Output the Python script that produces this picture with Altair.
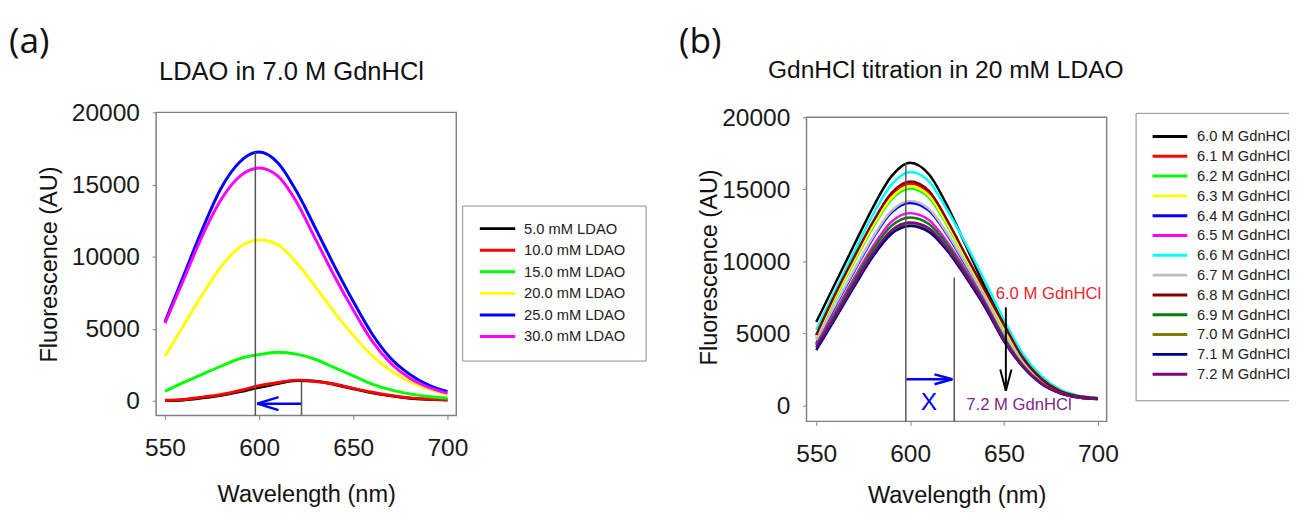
import altair as alt
import pandas as pd

FONT = "Liberation Sans"

# ---------------- data ----------------
wavelength = [550, 560, 570, 580, 590, 600, 610, 620, 630, 640, 650, 660, 670, 680, 690, 700]

# panel (a): LDAO in 7.0 M GdnHCl
left_labels = ["5.0 mM LDAO", "10.0  mM LDAO", "15.0 mM LDAO", "20.0 mM LDAO", "25.0 mM LDAO", "30.0 mM LDAO"]
left_colors = ["#000000", "#ff0000", "#00ff00", "#ffff00", "#0000ff", "#ff00ff"]
ldao_5 = [30, 80, 220, 400, 650, 950, 1220, 1420, 1380, 1150, 850, 570, 360, 200, 120, 70]
ldao_10 = [50, 110, 270, 450, 730, 1070, 1290, 1450, 1360, 1180, 880, 610, 390, 220, 140, 90]
ldao_15 = [680, 1290, 1860, 2430, 2950, 3220, 3380, 3250, 2880, 2310, 1750, 1180, 770, 500, 320, 200]
ldao_20 = [3110, 5260, 7410, 9340, 10700, 11160, 10820, 9570, 7900, 6150, 4550, 3150, 2100, 1350, 850, 450]
ldao_25 = [5490, 8730, 11950, 14800, 16600, 17250, 16500, 14500, 11950, 9350, 6900, 4650, 2950, 1850, 1100, 650]
ldao_30 = [5400, 8440, 11500, 14000, 15600, 16150, 15580, 13760, 11200, 8650, 6300, 4150, 2600, 1580, 950, 550]
left_series = [ldao_5, ldao_10, ldao_15, ldao_20, ldao_25, ldao_30]

# panel (b): GdnHCl titration in 20 mM LDAO
right_labels = ["6.0 M GdnHCl", "6.1 M GdnHCl", "6.2 M GdnHCl", "6.3 M GdnHCl", "6.4 M GdnHCl",
                "6.5 M GdnHCl", "6.6 M GdnHCl", "6.7 M GdnHCl", "6.8 M GdnHCl", "6.9 M GdnHCl",
                "7.0 M GdnHCl", "7.1 M GdnHCl", "7.2 M GdnHCl"]
right_colors = ["#000000", "#ff0000", "#00ff00", "#ffff00", "#0000ff", "#ff00ff", "#00ffff",
                "#c0c0c0", "#800000", "#008000", "#808000", "#000080", "#800080"]
gdn_60 = [5800, 8450, 11100, 13700, 15900, 16850, 16050, 13800, 11000, 8200, 5700, 3500, 1950, 1050, 650, 500]
gdn_61 = [4850, 7610, 10150, 12600, 14600, 15400, 14750, 12700, 10250, 7850, 5500, 3280, 1820, 990, 630, 490]
gdn_62 = [4700, 7420, 9920, 12330, 14280, 15050, 14430, 12450, 10100, 7750, 5300, 3200, 1780, 970, 610, 480]
gdn_63 = [4750, 7510, 10020, 12430, 14410, 15200, 14570, 12550, 10150, 7800, 5400, 3250, 1800, 980, 620, 490]
gdn_64 = [4300, 6860, 9260, 11550, 13380, 14050, 13520, 11800, 9650, 7400, 4900, 2950, 1650, 910, 580, 470]
gdn_65 = [4250, 6490, 8800, 11000, 12740, 13350, 12880, 11300, 9300, 7150, 4750, 2850, 1600, 890, 570, 460]
gdn_66 = [5250, 7940, 10610, 13200, 15310, 16200, 15550, 13500, 11150, 8600, 5950, 3600, 2050, 1100, 680, 520]
gdn_67 = [4550, 6960, 9360, 11660, 13500, 14200, 13650, 11900, 9750, 7500, 5050, 3050, 1680, 920, 590, 470]
gdn_68 = [4900, 7700, 10250, 12700, 14740, 15550, 14900, 12800, 10350, 7950, 5600, 3320, 1840, 1000, 640, 500]
gdn_69 = [4150, 6330, 8600, 10770, 12460, 13050, 12600, 11100, 9150, 7050, 4700, 2800, 1570, 880, 560, 460]
gdn_70 = [4000, 6090, 8300, 10420, 12050, 12600, 12200, 10800, 8950, 6900, 4550, 2720, 1520, 860, 550, 450]
gdn_71 = [3850, 6000, 8200, 10300, 11900, 12450, 12050, 10700, 8850, 6800, 4450, 2700, 1500, 850, 550, 450]
gdn_72 = [4050, 6150, 8380, 10500, 12150, 12700, 12300, 10850, 9000, 6950, 4550, 2730, 1530, 860, 550, 450]
right_series = [gdn_60, gdn_61, gdn_62, gdn_63, gdn_64, gdn_65, gdn_66, gdn_67, gdn_68, gdn_69, gdn_70, gdn_71, gdn_72]

x_ticks = [550, 600, 650, 700]
y_ticks = [0, 5000, 10000, 15000, 20000]

# annotation segments (data coordinates)
left_gray_x = [598, 622.5]
left_gray_top = [17250, 1430]
left_arrow_x = [622.2, 599, 599]
left_arrow_x2 = [599, 610.3, 610.3]
left_arrow_y = [-180, -180, -180]
left_arrow_y2 = [-180, 270, -630]

right_gray_x = [597.7, 623.5]
right_gray_top = [16850, 8880]
right_blue_x = [598, 622.5, 622.5]
right_blue_x2 = [622.5, 613, 613]
right_blue_y = [1820, 1820, 1820]
right_blue_y2 = [1820, 2160, 1480]
right_black_x = [651, 651, 651]
right_black_x2 = [651, 648, 654]
right_black_y = [6810, 1020, 1020]
right_black_y2 = [1020, 2500, 2500]


def long_df(labels, series):
    rows = []
    for lab, vals in zip(labels, series):
        for w, v in zip(wavelength, vals):
            rows.append({"wl": w, "F": v, "series": lab})
    return pd.DataFrame(rows)


left_df = long_df(left_labels, left_series)
right_df = long_df(right_labels, right_series)


def enc_x(scale, title_pad):
    return alt.X("wl:Q", scale=scale,
                 axis=alt.Axis(values=x_ticks, title="Wavelength (nm)", titlePadding=title_pad,
                               labelPadding=17, tickSize=4, format="d"))


def enc_y(scale, title_pad):
    return alt.Y("F:Q", scale=scale,
                 axis=alt.Axis(values=y_ticks, title="Fluorescence (AU)", titlePadding=title_pad,
                               labelPadding=13, tickSize=4, format="d"))


def segs(x, x2, y, y2):
    return pd.DataFrame({"wl": x, "wl2": x2, "F": y, "F2": y2})


def label_layer(text, x, y, size, font, align="left", color="#111111"):
    return alt.Chart(pd.DataFrame({"t": [text]})).mark_text(
        align=align, baseline="alphabetic", fontSize=size, font=font, color=color
    ).encode(x=alt.value(x), y=alt.value(y), text="t:N")


def panel(df, labels, colors, xdom, ydom, width, height, title, title_x, title_size,
          legend, tag, tag_x, ytitle_pad, xtitle_pad, stroke_w,
          rule_layers, text_layers, extra_layers):
    xs = alt.Scale(domain=xdom, nice=False, zero=False)
    ys = alt.Scale(domain=ydom, nice=False, zero=False)
    lines = alt.Chart(df).mark_line(strokeWidth=stroke_w, interpolate="monotone").encode(
        x=enc_x(xs, xtitle_pad),
        y=enc_y(ys, ytitle_pad),
        color=alt.Color("series:N", scale=alt.Scale(domain=labels, range=colors), legend=legend),
    )
    layers = list(extra_layers) + [lines]
    for d, col, sw in rule_layers:
        layers.append(alt.Chart(d).mark_rule(color=col, strokeWidth=sw).encode(
            x=enc_x(xs, xtitle_pad), x2="wl2:Q", y=enc_y(ys, ytitle_pad), y2="F2:Q"))
    for d, col, size in text_layers:
        layers.append(alt.Chart(d).mark_text(color=col, fontSize=size, font=FONT).encode(
            x=enc_x(xs, xtitle_pad), y=enc_y(ys, ytitle_pad), text="t:N"))
    layers.append(label_layer(tag, tag_x, -61, 36, "Open Sans"))
    layers.append(label_layer(title, title_x, -33 if tag == "(a)" else -35, title_size, FONT, "center"))
    return alt.layer(*layers).properties(width=width, height=height)


left_legend = alt.Legend(orient="none", legendX=312, legendY=95, title=None,
                         strokeColor="#8c8c8c", padding=16, symbolType="stroke",
                         symbolSize=1300, symbolStrokeWidth=3, labelFontSize=15,
                         labelFont=FONT, labelColor="#222222", clipHeight=15,
                         rowPadding=6, labelOffset=7)
right_legend = alt.Legend(orient="none", legendX=347, legendY=13, title=None,
                          padding=4, symbolType="stroke",
                          symbolSize=1250, symbolStrokeWidth=3, labelFontSize=15,
                          labelFont=FONT, labelColor="#222222", clipHeight=15,
                          rowPadding=4.2, labelOffset=8)

left_rules = [
    (segs(left_gray_x, left_gray_x, left_gray_top, [-1000, -1000]), "#555555", 1.5),
    (segs(left_arrow_x, left_arrow_x2, left_arrow_y, left_arrow_y2), "#0000ff", 2.5),
]
right_rules = [
    (segs(right_gray_x, right_gray_x, right_gray_top, [-1100, -1100]), "#555555", 1.5),
    (segs(right_blue_x, right_blue_x2, right_blue_y, right_blue_y2), "#0000ff", 2.5),
    (segs(right_black_x, right_black_x2, right_black_y, right_black_y2), "#000000", 2),
]
right_texts = [
    (pd.DataFrame({"wl": [610], "F": [250], "t": ["X"]}), "#0000ff", 25),
    (pd.DataFrame({"wl": [673.7], "F": [7740], "t": ["6.0 M GdnHCl"]}), "#e8262e", 17),
    (pd.DataFrame({"wl": [658], "F": [0], "t": ["7.2 M GdnHCl"]}), "#7b2a85", 17),
]

# frame of panel (b), which sits 5 px lower than panel (a)
right_frame = alt.Chart(pd.DataFrame({"k": [0]})).mark_rect(
    fill="transparent", stroke="#808080", strokeWidth=1.5
).encode(x=alt.value(0), x2=alt.value(306), y=alt.value(5), y2=alt.value(315))

# legend box of panel (b): cut by the right edge of the picture
box_x = [336, 336, 336]
box_x2 = [336, 492, 492]
box_y = [1, 1, 294]
box_y2 = [294, 1, 294]
right_box = alt.Chart(pd.DataFrame({"x": box_x, "x2": box_x2, "y": box_y, "y2": box_y2})).mark_rule(
    color="#8c8c8c", strokeWidth=1
).encode(x=alt.X("x:Q", scale=None), x2="x2:Q", y=alt.Y("y:Q", scale=None), y2="y2:Q")

left = panel(left_df, left_labels, left_colors, [545.3, 704.7], [-1000, 20000], 306, 309,
             "LDAO in 7.0 M GdnHCl", 138, 26, left_legend, "(a)", -150, 10, 23, 3,
             left_rules, [], [])
right = panel(right_df, right_labels, right_colors, [544.8, 704.7], [-1100, 20340], 306, 315,
              "GdnHCl titration in 20 mM LDAO", 142, 25, right_legend, "(b)", -130, 0, 18, 2.5,
              right_rules, right_texts, [right_frame, right_box]).properties(
    view=alt.ViewBackground(stroke="transparent"))

chart = alt.hconcat(left, right, spacing=31).resolve_scale(color="independent").properties(
    padding={"left": 0, "top": 10.5, "right": 0, "bottom": 0}
).configure_view(stroke="#808080", strokeWidth=1.5).configure_axis(
    domain=False, grid=False, tickColor="#808080", labelFont=FONT, labelFontSize=25,
    labelColor="#1a1a1a", titleFont=FONT, titleFontSize=24, titleFontWeight="normal",
    titleColor="#111111"
)

chart.save("out.html", embed_options={"renderer": "svg", "actions": False})
